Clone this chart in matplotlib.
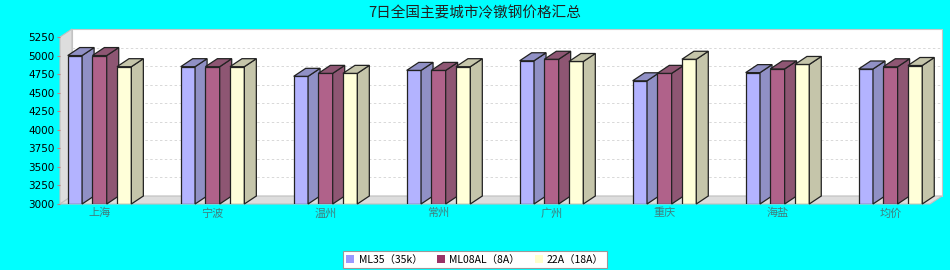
import matplotlib.pyplot as plt
from matplotlib.patches import Polygon, Patch
import numpy as np

plt.rcParams['font.family'] = ['Noto Sans CJK SC', 'DejaVu Sans']

cities = ['上海', '宁波', '温州', '常州', '广州', '重庆', '海盐', '均价']
series = ['ML35（35k）', 'ML08AL（8A）', '22A（18A）']
ml35 = [5000, 4850, 4720, 4800, 4930, 4660, 4770, 4819]
ml08al = [5000, 4850, 4760, 4800, 4950, 4760, 4820, 4849]
a22 = [4850, 4850, 4760, 4850, 4920, 4950, 4880, 4866]
yticks = [3000, 3250, 3500, 3750, 4000, 4250, 4500, 4750, 5000, 5250]

legend_colors = ['#9999FF', '#993366', '#FFFFCC']
front_colors = ['#B3B3FF', '#B0628A', '#FFFFD9']
side_colors = ['#9090C5', '#8E5673', '#C5C5AA']

W, H = 950, 270
fig = plt.figure(figsize=(W / 100, H / 100), dpi=100)
fig.patch.set_facecolor('#00FFFF')

ax = fig.add_axes([60 / W, 66 / H, 870 / W, 167 / H])
x0, x1 = -0.35, 7.35
y0, y1 = yticks[0], yticks[-1]
ax.set_xlim(x0, x1)
ax.set_ylim(y0, y1)
ax.patch.set_visible(False)
for s in ax.spines.values():
    s.set_visible(False)

# depth of the fake 3d box, 12px right and 8px up
ddx = 12 / 870 * (x1 - x0)
ddy = 8 / 167 * (y1 - y0)

# back wall, side wall, floor
ax.add_patch(Polygon([(x0 + ddx, y0 + ddy), (x1 + ddx, y0 + ddy),
                      (x1 + ddx, y1 + ddy), (x0 + ddx, y1 + ddy)],
                     facecolor='white', edgecolor='#C8C8C8', lw=0.8,
                     zorder=0, clip_on=False))
for v in yticks[1:-1]:
    ax.plot([x0 + ddx, x1 + ddx], [v + ddy, v + ddy], color='#D8D8D8',
            lw=0.7, ls=(0, (2.5, 2.5)), zorder=0.5, clip_on=False)
ax.add_patch(Polygon([(x0, y0), (x0 + ddx, y0 + ddy), (x0 + ddx, y1 + ddy), (x0, y1)],
                     facecolor='#DDDDDD', edgecolor='#C0C0C0', lw=0.8,
                     zorder=0.6, clip_on=False))
ax.add_patch(Polygon([(x0, y0), (x1, y0), (x1 + ddx, y0 + ddy), (x0 + ddx, y0 + ddy)],
                     facecolor='#DDDDDD', edgecolor='#C0C0C0', lw=0.8,
                     zorder=0.6, clip_on=False))

# bars
w = 0.127
offs = [-0.218, 0, 0.218]
idx = np.arange(len(cities))
z = 1
for i in idx:
    for j, vals in enumerate([ml35, ml08al, a22]):
        v = vals[i]
        xc = i + offs[j]
        xl, xr = xc - w / 2, xc + w / 2
        ax.bar(xc, v - y0, width=w, bottom=y0, color=front_colors[j],
               edgecolor='#222222', lw=0.9, zorder=z)
        ax.add_patch(Polygon([(xr, y0), (xr + ddx, y0 + ddy), (xr + ddx, v + ddy), (xr, v)],
                             facecolor=side_colors[j], edgecolor='#222222', lw=0.9,
                             zorder=z, clip_on=False))
        ax.add_patch(Polygon([(xl, v), (xr, v), (xr + ddx, v + ddy), (xl + ddx, v + ddy)],
                             facecolor=side_colors[j], edgecolor='#222222', lw=0.9,
                             zorder=z, clip_on=False))
        z += 1

ax.set_yticks(yticks)
ax.set_yticklabels([str(t) for t in yticks], fontsize=7.5, family='DejaVu Sans')
ax.tick_params(axis='y', length=2, color='#C08080', pad=2)
ax.set_xticks(idx)
ax.set_xticklabels(cities, fontsize=8, color='#3F7F7F')
ax.tick_params(axis='x', length=0, pad=3)

fig.text(0.5, 1 - 13 / H, '7日全国主要城市冷镦钢价格汇总', ha='center', va='center',
         fontsize=10.5, color='#222222')

handles = [Patch(facecolor=c, edgecolor='none') for c in legend_colors]
leg = fig.legend(handles, series, loc='center', bbox_to_anchor=(475 / W, 1 - 259.5 / H),
                 ncol=3, fontsize=7.5, frameon=True, fancybox=False, framealpha=1,
                 handlelength=0.8, handleheight=0.8, handletextpad=0.4,
                 columnspacing=1.4, borderpad=0.3, borderaxespad=0)
leg.get_frame().set_facecolor('white')
leg.get_frame().set_edgecolor('#999999')
leg.get_frame().set_linewidth(0.8)

fig.savefig('out.png', dpi=100, facecolor='#00FFFF')
